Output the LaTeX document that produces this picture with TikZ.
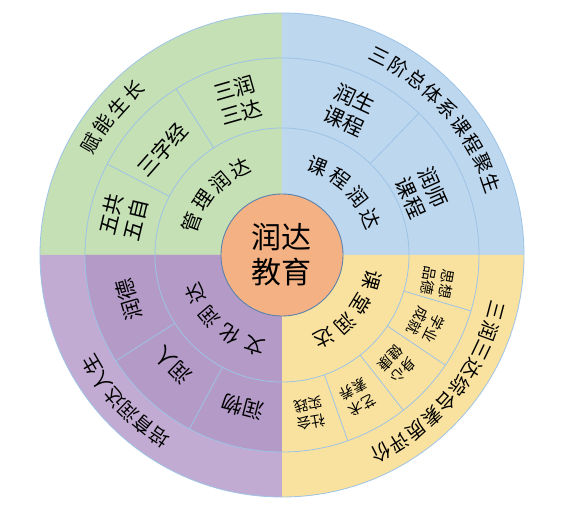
\documentclass[tikz,border=0pt]{standalone}
\usepackage{fontspec}
\setmainfont{Noto Sans CJK SC}
\definecolor{qgreen}{HTML}{C5E0B4}
\definecolor{qblue}{HTML}{BDD7EE}
\definecolor{qyellow}{HTML}{F9E29F}
\definecolor{qpurpleout}{HTML}{C2ABD2}
\definecolor{qpurplein}{HTML}{B49AC7}
\definecolor{corange}{HTML}{F4B183}
\definecolor{lineblue}{HTML}{9DC3E6}
\definecolor{cline}{HTML}{5A82AE}
\newcommand\arcchars[6]{%
  \foreach \c [count=\i from 0] in {#6} {%
    \pgfmathsetmacro\ang{#3+#4*\i}%
    \pgfmathsetmacro\rot{\ang-90}%
    \node[ch=#5, rotate=\rot] (#1-\i) at (\ang:#2) {\c};
  }%
}
\begin{document}
\begin{tikzpicture}[x=1pt,y=1pt,
  ringline/.style={draw=lineblue, line width=0.8pt},
  ch/.style={inner sep=0pt, font=\fontsize{#1}{#1}\selectfont},
  blkL/.style={inner sep=0pt, align=center, font=\fontsize{21}{25}\selectfont},
  blkS/.style={inner sep=0pt, align=center, font=\fontsize{14.5}{18}\selectfont}]
\useasboundingbox (-282,-259) rectangle (304,255);
% quadrant fills
\fill[qgreen] (0,0) -- (90:242) arc[start angle=90, end angle=180, radius=242] -- cycle;
\fill[qblue] (0,0) -- (0:242) arc[start angle=0, end angle=90, radius=242] -- cycle;
\fill[qyellow] (0,0) -- (270:242) arc[start angle=270, end angle=360, radius=242] -- cycle;
\fill[qpurpleout] (0,0) -- (180:242) arc[start angle=180, end angle=270, radius=242] -- cycle;
\fill[qpurplein] (0,0) -- (180:197) arc[start angle=180, end angle=270, radius=197] -- cycle;
% rings
\draw[ringline] (0,0) circle[radius=127];
\draw[ringline] (0,0) circle[radius=197];
\draw[ringline] (0,0) circle[radius=242];
% dividers
\foreach \a in {122.5,152.5,46,-16.5,-34,-52,-70.5,212.5,242}
  \draw[ringline] (\a:127) -- (\a:197);
% centre
\node[circle, fill=corange, draw=cline, line width=0.9pt, minimum size=122pt,
  inner sep=0pt, align=center, font=\fontsize{30}{35}\selectfont] (c) at (0,0) {润达\\教育};
% green
\arcchars{g2}{96}{160}{-14.8}{20}{管,理,润,达}
\node[blkL, rotate=16] (g3a) at (106:161) {三润\\三达};
\node[blkL, rotate=48.6] (g3b) at (138.6:159) {三字经};
\node[blkL, rotate=76.6] (g3c) at (166.6:163) {五共\\五自};
\arcchars{g4}{221}{149.7}{-5.9}{19.5}{赋,能,生,长}
% blue
\arcchars{b2}{96}{68}{-15.2}{20}{课,程,润,达}
\node[blkL, rotate=-25] (b3a) at (65:160) {润生\\课程};
\node[blkL, rotate=-66] (b3b) at (24:153) {润师\\课程};
\arcchars{b4}{221}{63.7}{-5.59}{19.5}{三,阶,总,体,系,课,程,聚,生}
% yellow
\arcchars{y2}{93}{-16}{-15.7}{20}{课,堂,润,达}
\node[blkS, rotate=-100] (y3a) at (-10:158) {思想\\品德};
\node[blkS, rotate=-116] (y3b) at (-26:160) {学业\\成就};
\node[blkS, rotate=-133.5] (y3c) at (-43.5:159) {身心\\健康};
\node[blkS, rotate=-152] (y3d) at (-62:161) {艺术\\素养};
\node[blkS, rotate=-170] (y3e) at (-80:161) {社会\\实践};
\arcchars{y4}{221}{-14.7}{-5.4}{19.5}{三,润,三,达,综,合,素,质,评,价}
% purple
\arcchars{p2}{95}{253}{-16.3}{20}{文,化,润,达}
\node[blkL, rotate=106.3] (p3a) at (196.3:160) {润德};
\node[blkL, rotate=135.3] (p3b) at (225.3:155) {润人};
\node[blkL, rotate=165.6] (p3c) at (255.6:157) {润物};
\arcchars{p4}{220}{236}{-5.2}{19.5}{培,育,润,达,人,生}
\end{tikzpicture}
\end{document}
